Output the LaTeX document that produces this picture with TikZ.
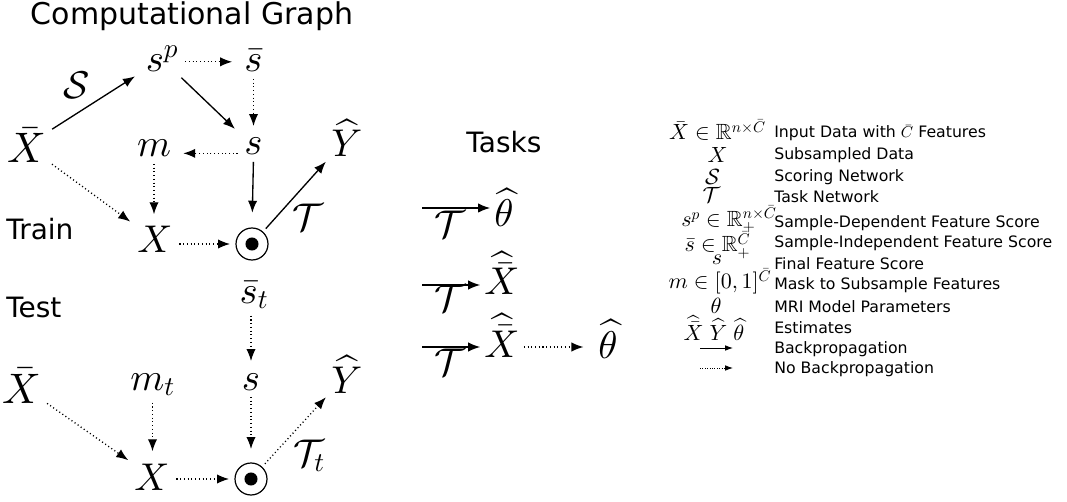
\documentclass[tikz,border=0pt]{standalone}
\usepackage{amssymb}
\usepackage{fontspec}
\setsansfont{DejaVu Sans}
\DeclareFontShape{OML}{cmm}{m}{it}{<->cmmi10}{}
\DeclareFontShape{OMS}{cmsy}{m}{n}{<->cmsy10}{}
\DeclareFontShape{OMX}{cmex}{m}{n}{<->cmex10}{}
\DeclareFontShape{OT1}{cmr}{m}{n}{<->cmr10}{}
\DeclareFontFamily{U}{msb}{}
\DeclareFontShape{U}{msb}{m}{n}{<->msbm10}{}
\usetikzlibrary{arrows.meta}
\begin{document}
\begin{tikzpicture}[x=0.75pt,y=-0.75pt,
  gm/.style={font=\fontsize{29}{34}\selectfont, inner sep=2pt, anchor=base},
  gmb/.style={gm, font=\fontsize{32}{38}\selectfont},
  hd/.style={font=\fontsize{21}{25}\selectfont\sffamily, inner sep=0pt},
  lm/.style={font=\fontsize{16.5}{19}\selectfont, inner sep=0pt, anchor=base},
  lt/.style={font=\fontsize{11.8}{14}\selectfont\sffamily, inner sep=0pt, anchor=base west},
  bp/.style={-{Latex[length=9pt,width=7pt]}, line width=1pt, shorten <=3pt, shorten >=7pt},
  nbp/.style={bp, dash pattern=on 0.8pt off 2pt},
  odn/.style={circle, draw, line width=0.9pt, minimum size=24pt, inner sep=0pt,
    path picture={\fill (path picture bounding box.center) circle (4.9pt);}},
  tk/.style={-{Latex[length=9pt,width=7pt]}, line width=1pt},
  lg/.style={-{Latex[length=6pt,width=4.2pt]}, line width=0.6pt},
  lgd/.style={lg, dash pattern=on 0.6pt off 1.2pt}
]
\useasboundingbox (0,0) rectangle (1067,502);

% ---------- Train ----------
\node[hd, anchor=base, font=\fontsize{22.5}{27}\selectfont\sffamily] (title) at (192,25) {Computational Graph};
\node[gmb] (Xb) at (26.5,163) {$\bar{X}$};
\node[gm] (sp) at (162,72) {$s^{p}$};
\node[gm] (sb) at (253.5,72) {$\bar{s}$};
\node[gm] (m) at (154,157) {$m$};
\node[gm] (s) at (253.5,155) {$s$};
\node[gm] (Yh) at (347,157) {$\widehat{Y}$};
\node[gm] (X) at (155,253) {$X$};
\node[odn] (od) at (252,244) {};
\node[gm] (Sl) at (77,99) {$\mathcal{S}$};
\node[gm] (Tl) at (308,231) {$\mathcal{T}$};
\node[hd, anchor=base west] (train) at (6,240) {Train};

\draw[bp] (Xb) -- (sp);
\draw[nbp] ([yshift=-2pt]sp.east) -- ([yshift=-2pt]sp.east -| sb.west);
\draw[bp] (sp) -- (s);
\draw[nbp] (sb.south) -- (s.north);
\draw[nbp] ([yshift=-5pt]s.west) -- ([yshift=-5pt]s.west -| m.east);
\draw[nbp] (m.south) -- (m.south |- X.north);
\draw[nbp, shorten >=4pt] (Xb) -- (X);
\draw[bp, shorten >=11pt] (s.south) -- (od.north);
\draw[nbp, shorten >=4pt] (X.east |- od) -- (od.west);
\draw[bp, shorten >=3pt] (od) -- (Yh);

% ---------- Test ----------
\node[hd, anchor=base west] (test) at (6,317) {Test};
\node[gm] (sbt) at (254,303) {$\bar{s}_t$};
\node[gm] (s2) at (251,390) {$s$};
\node[gm] (mt) at (152.5,390) {$m_t$};
\node[gmb] (Xb2) at (21.5,403) {$\bar{X}$};
\node[gm] (Yh2) at (347,393) {$\widehat{Y}$};
\node[gm] (X2) at (152,490) {$X$};
\node[odn] (od2) at (251,479) {};
\node[gm] (Tt) at (309,466) {$\mathcal{T}_t$};

\draw[nbp] (s2 |- sbt.south) -- (s2.north);
\draw[nbp, shorten >=10pt] (s2.south) -- (od2.north);
\draw[nbp] (mt.south) -- (mt.south |- X2.north);
\draw[nbp, shorten >=3pt] (Xb2) -- (X2);
\draw[nbp, shorten >=4pt] (X2.east |- od2) -- (od2.west);
\draw[nbp, shorten >=3pt] (od2) -- (Yh2);

% ---------- Tasks ----------
\node[hd, anchor=base] (tasks) at (504,153) {Tasks};
\coordinate (a1) at (422,208);
\coordinate (a2) at (422,285);
\coordinate (a3) at (422,347);
\node[gm, inner sep=3pt] (th1) at (504,227) {$\widehat{\theta}$};
\node[gm] (T1) at (450,238) {$\mathcal{T}$};
\node[gm, inner sep=3pt] (xh2) at (502,295) {$\widehat{\bar{X}}$};
\node[gm] (T2) at (450,311) {$\mathcal{T}$};
\node[gm, inner sep=3pt] (xh3) at (502,357) {$\widehat{\bar{X}}$};
\node[gm] (T3) at (450,375) {$\mathcal{T}$};
\node[gm, inner sep=3pt] (th3) at (608,358) {$\widehat{\theta}$};
\draw[tk] (a1) -- (a1 -| th1.west);
\draw[tk] (a2) -- (a2 -| xh2.west);
\draw[tk] (a3) -- (a3 -| xh3.west);
\draw[nbp, shorten <=0pt, shorten >=8pt] (xh3.east |- a3) -- (th3.west |- a3);

% ---------- Legend ----------
\node[lm] (l1) at (717.5,140) {$\bar{X}\in\mathbb{R}^{n\times\bar{C}}$};
\node[lt] (t1) at (774,138) {Input Data with $\bar{C}$ Features};
\node[lm] (l2) at (717.5,163) {$X$};
\node[lt] (t2) at (774,160) {Subsampled Data};
\node[lm] (l3) at (712.5,185) {$\mathcal{S}$};
\node[lt] (t3) at (774,182) {Scoring Network};
\node[lm] (l4) at (711.5,203) {$\mathcal{T}$};
\node[lt] (t4) at (774,203) {Task Network};
\node[lm] (l5) at (729,227) {$s^{p}\in\mathbb{R}_{+}^{n\times\bar{C}}$};
\node[lt] (t5) at (774,228) {Sample-Dependent Feature Score};
\node[lm] (l6) at (717.5,252) {$\bar{s}\in\mathbb{R}_{+}^{\bar{C}}$};
\node[lt] (t6) at (774,248) {Sample-Independent Feature Score};
\node[lm] (l7) at (717,265) {$s$};
\node[lt] (t7) at (774,270) {Final Feature Score};
\node[lm] (l8) at (720,289) {$m\in[0,1]^{\bar{C}}$};
\node[lt] (t8) at (774,290) {Mask to Subsample Features};
\node[lm] (l9) at (716,313) {$\theta$};
\node[lt] (t9) at (774,312) {MRI Model Parameters};
\node[lm] (l10) at (714,340) {$\widehat{\bar{X}}\;\widehat{Y}\;\widehat{\theta}$};
\node[lt] (t10) at (774,333) {Estimates};
\coordinate (b1s) at (700,348);
\coordinate (b1e) at (733,348);
\node[lt] (t11) at (774,353) {Backpropagation};
\coordinate (b2s) at (700,368);
\coordinate (b2e) at (733,368);
\node[lt] (t12) at (774,373) {No Backpropagation};
\draw[lg] (b1s) -- (b1e);
\draw[lgd] (b2s) -- (b2e);
\end{tikzpicture}
\end{document}
